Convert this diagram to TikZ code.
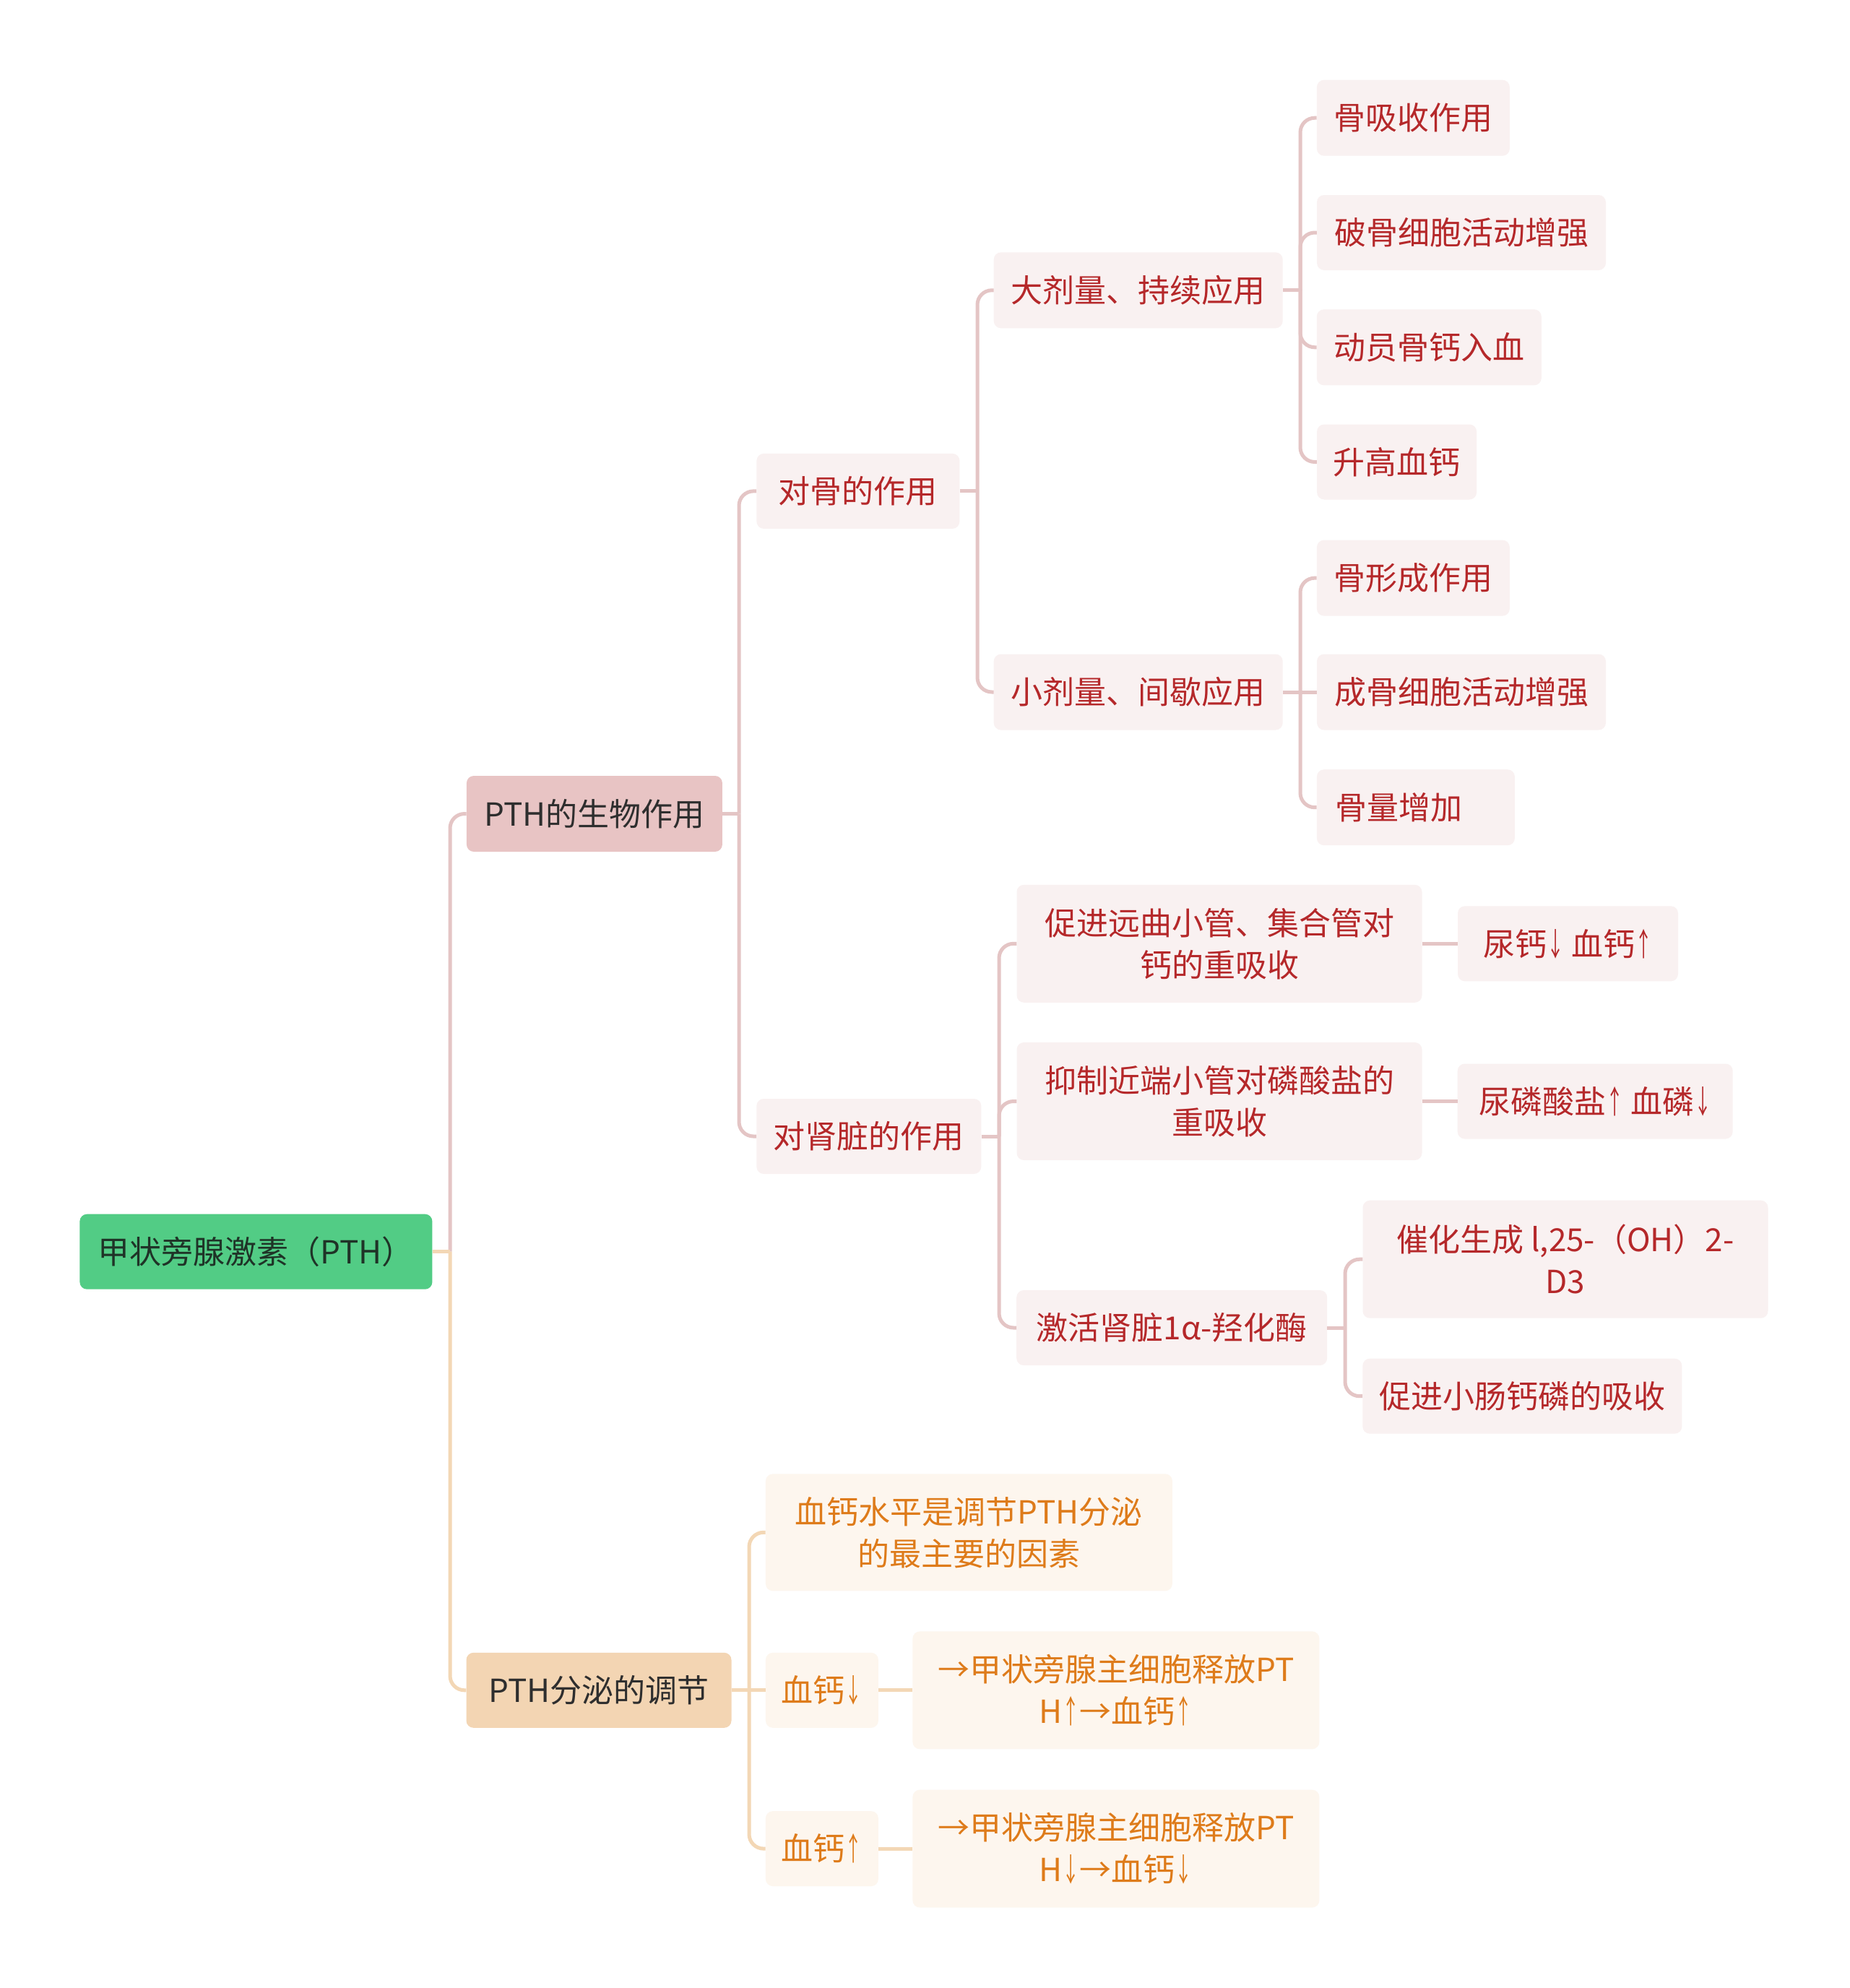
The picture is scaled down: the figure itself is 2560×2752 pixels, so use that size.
\documentclass[tikz,border=0pt]{standalone}
\usepackage{graphicx}
\usepackage{fontspec}
\setmainfont{Noto Sans CJK SC}
\newcommand{\dn}{\scalebox{0.55}[1]{↓}}
\newcommand{\up}{\scalebox{0.55}[1]{↑}}
\definecolor{rootfill}{HTML}{52CC85}
\definecolor{roottext}{HTML}{1F3327}
\definecolor{pinkfill}{HTML}{E8C4C4}
\definecolor{peachfill}{HTML}{F3D5B3}
\definecolor{darktext}{HTML}{2E2E2E}
\definecolor{pkfill}{HTML}{F9F1F1}
\definecolor{pktext}{HTML}{B5282A}
\definecolor{orfill}{HTML}{FDF6EE}
\definecolor{ortext}{HTML}{DE7B1A}
\definecolor{pkline}{HTML}{E4C5C5}
\definecolor{orline}{HTML}{F3D7B5}
\tikzset{
  base/.style={rectangle, rounded corners=10pt, inner sep=0pt, align=center,
    font=\fontsize{44}{58}\selectfont},
  rootbox/.style={base, fill=rootfill, text=roottext},
  pinkbox/.style={base, fill=pinkfill, text=darktext},
  peachbox/.style={base, fill=peachfill, text=darktext},
  pkbox/.style={base, fill=pkfill, text=pktext},
  orbox/.style={base, fill=orfill, text=ortext},
  pkconn/.style={draw=pkline, line width=5pt},
  orconn/.style={draw=orline, line width=5pt},
  pkcurve/.style={pkconn, rounded corners=20pt},
  orcurve/.style={orconn, rounded corners=20pt}
}
\begin{document}
\begin{tikzpicture}[x=1pt,y=-1pt]
\useasboundingbox (0,0) rectangle (2560,2752);
\fill[white] (0,0) rectangle (2560,2752);

% nodes
\node[rootbox, minimum width=488pt, minimum height=104pt] (root) at (354.4,1732.7) {甲状旁腺激素（PTH）};
\node[pinkbox, minimum width=354pt, minimum height=105pt] (bio) at (822.9,1126.5) {PTH的生物作用};
\node[peachbox, minimum width=367pt, minimum height=104pt] (reg) at (829,2339.8) {PTH分泌的调节};

\node[pkbox, minimum width=281pt, minimum height=104pt] (bone) at (1187.9,679.9) {对骨的作用};
\node[pkbox, minimum width=311pt, minimum height=104pt] (kid) at (1202.8,1573) {对肾脏的作用};

\node[pkbox, minimum width=400pt, minimum height=105pt] (big) at (1575.7,401.8) {大剂量、持续应用};
\node[pkbox, minimum width=400pt, minimum height=105pt] (small) at (1575.7,958) {小剂量、间歇应用};

\node[pkbox, minimum width=267pt, minimum height=105pt] (b1) at (1956.4,163.2) {骨吸收作用};
\node[pkbox, minimum width=400pt, minimum height=104pt] (b2) at (2023,322) {破骨细胞活动增强};
\node[pkbox, minimum width=311pt, minimum height=105pt] (b3) at (1978.3,480.8) {动员骨钙入血};
\node[pkbox, minimum width=221pt, minimum height=104pt] (b4) at (1933.6,639.5) {升高血钙};

\node[pkbox, minimum width=267pt, minimum height=105pt] (s1) at (1956.4,800.1) {骨形成作用};
\node[pkbox, minimum width=400pt, minimum height=105pt] (s2) at (2023,958) {成骨细胞活动增强};
\node[pkbox, minimum width=274pt, minimum height=105pt] (s3) at (1959.9,1117.7) {\makebox[222pt][l]{骨量增加}};

\node[pkbox, minimum width=561pt, minimum height=163pt] (k1) at (1688,1306.3) {促进远曲小管、集合管对\\钙的重吸收};
\node[pkbox, minimum width=561pt, minimum height=163pt] (k2) at (1688,1524.5) {抑制近端小管对磷酸盐的\\重吸收};
\node[pkbox, minimum width=430pt, minimum height=104pt] (k3) at (1622.2,1838) {激活肾脏1α-羟化酶};

\node[pkbox, minimum width=305pt, minimum height=104pt] (k1a) at (2170.5,1306.3) {尿钙\dn{} 血钙\up};
\node[pkbox, minimum width=381pt, minimum height=104pt] (k2a) at (2208.2,1524.5) {尿磷酸盐\up{} 血磷\dn};
\node[pkbox, minimum width=561pt, minimum height=163pt] (k3a) at (2167,1743.2) {催化生成 l,25-（OH）2-\\D3};
\node[pkbox, minimum width=442pt, minimum height=104pt] (k3b) at (2107.3,1932.7) {促进小肠钙磷的吸收};

\node[orbox, minimum width=563pt, minimum height=162pt] (r1) at (1341.4,2121.3) {血钙水平是调节PTH分泌\\的最主要的因素};
\node[orbox, minimum width=156pt, minimum height=104pt] (r2) at (1137.9,2339.8) {血钙\dn};
\node[orbox, minimum width=156pt, minimum height=104pt] (r3) at (1137.9,2559.1) {血钙\up};
\node[orbox, minimum width=563pt, minimum height=163pt] (r2a) at (1544.9,2339.8) {→甲状旁腺主细胞释放PT\\H\up→血钙\up};
\node[orbox, minimum width=563pt, minimum height=163pt] (r3a) at (1544.9,2559.1) {→甲状旁腺主细胞释放PT\\H\dn→血钙\dn};

% junction coordinates
\coordinate (j0) at (623,1732.7);
\coordinate (j1) at (1023,1126.5);
\coordinate (j2) at (1353,679.9);
\coordinate (j3) at (1800,401.8);
\coordinate (j4) at (1800,958);
\coordinate (j5) at (1383,1573);
\coordinate (j6) at (1862,1838);
\coordinate (j7) at (1037,2339.8);

% root
\draw[pkcurve] (j0) |- (bio.west);
\draw[orcurve] (j0) |- (reg.west);
\draw[orconn] (root.east) -- (j0);
% bio
\draw[pkconn] (bio.east) -- (j1);
\draw[pkcurve] (j1) |- (bone.west);
\draw[pkcurve] (j1) |- (kid.west);
% bone
\draw[pkconn] (bone.east) -- (j2);
\draw[pkcurve] (j2) |- (big.west);
\draw[pkcurve] (j2) |- (small.west);
% big
\draw[pkconn] (big.east) -- (j3);
\draw[pkcurve] (j3) |- (b1.west);
\draw[pkcurve] (j3) |- (b2.west);
\draw[pkcurve] (j3) |- (b3.west);
\draw[pkcurve] (j3) |- (b4.west);
% small
\draw[pkconn] (small.east) -- (j4);
\draw[pkcurve] (j4) |- (s1.west);
\draw[pkconn] (j4) -- (s2.west);
\draw[pkcurve] (j4) |- (s3.west);
% kidney
\draw[pkconn] (kid.east) -- (j5);
\draw[pkcurve] (j5) |- (k1.west);
\draw[pkcurve] (j5) |- (k2.west);
\draw[pkcurve] (j5) |- (k3.west);
\draw[pkconn] (k1.east) -- (k1a.west);
\draw[pkconn] (k2.east) -- (k2a.west);
\draw[pkconn] (k3.east) -- (j6);
\draw[pkcurve] (j6) |- (k3a.west);
\draw[pkcurve] (j6) |- (k3b.west);
% regulation
\draw[orconn] (reg.east) -- (j7);
\draw[orcurve] (j7) |- (r1.west);
\draw[orconn] (j7) -- (r2.west);
\draw[orcurve] (j7) |- (r3.west);
\draw[orconn] (r2.east) -- (r2a.west);
\draw[orconn] (r3.east) -- (r3a.west);
\end{tikzpicture}
\end{document}
